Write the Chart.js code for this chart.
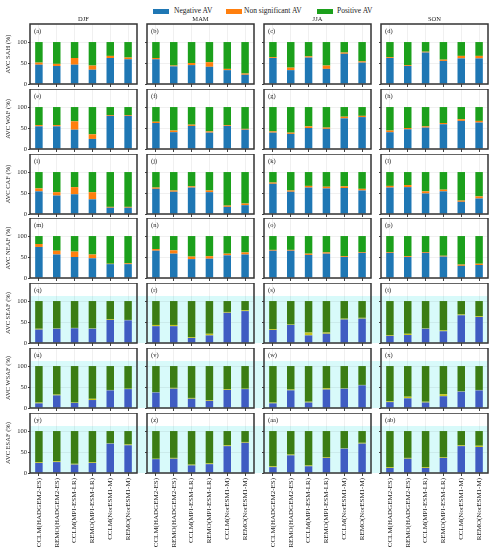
<!DOCTYPE html>
<html>
<head>
<meta charset="utf-8">
<script src="https://cdn.jsdelivr.net/npm/chart.js@4.4.0/dist/chart.umd.min.js"></script>
<style>
    body { margin: 0; background: #fff; }
    #fig { position: relative; width: 494px; height: 550px; overflow: hidden; font-family: "Liberation Serif", serif; color: #222; }
    #fig canvas { position: absolute; }
    .lg-box { position: absolute; top: 9px; width: 16px; height: 5px; }
    .lg-txt { position: absolute; top: 6px; font-size: 7.5px; line-height: 10px; white-space: nowrap; }
</style>
</head>
<body>
<div id="fig"></div>
<script>
// --- data ---
const models = ['CCLM(HADGEM2-ES)', 'REMO(HADGEM2-ES)', 'CCLM(MPI-ESM-LR)', 'REMO(MPI-ESM-LR)', 'CCLM(NorESM1-M)', 'REMO(NorESM1-M)'];
const seasons = ['DJF', 'MAM', 'JJA', 'SON'];
const regions = ['SAH', 'WAF', 'CAF', 'NEAF', 'SEAF', 'WSAF', 'ESAF'];
const letters = ['a','b','c','d','e','f','g','h','i','j','k','l','m','n','o','p','q','r','s','t','u','v','w','x','y','z','aa','ab'];
const seriesNames = ['Negative AV', 'Non significant AV', 'Positive AV'];
const yTicks = [0, 50, 100];

// each region: one row per season (DJF, MAM, JJA, SON), one value per model
const negSAH = [[46,43,46,34,62,59],[59,42,45,41,33,22],[62,33,63,36,72,51],[62,43,75,55,61,61]];
const nsSAH  = [[5,5,16,10,5,4],[3,2,5,11,3,3],[2,6,3,8,3,3],[2,2,2,3,6,6]];
const posSAH = [[49,52,38,56,33,37],[38,56,50,48,64,75],[36,61,34,56,25,46],[36,55,23,42,33,33]];

const negWAF = [[54,54,46,24,79,79],[62,40,55,39,55,46],[39,36,50,48,73,76],[40,47,51,59,67,63]];
const nsWAF  = [[3,3,20,11,2,2],[3,4,3,3,2,2],[3,3,4,3,4,3],[4,3,3,3,4,4]];
const posWAF = [[43,43,34,65,19,19],[35,56,42,58,43,52],[58,61,46,49,23,21],[56,50,46,38,29,33]];

const negCAF = [[54,44,47,35,15,15],[60,53,63,52,17,21],[72,53,63,61,62,56],[63,64,49,54,29,37]];
const nsCAF  = [[7,8,17,17,2,2],[3,3,3,4,3,4],[3,3,4,4,4,4],[4,5,5,4,3,5]];
const posCAF = [[39,48,36,48,83,83],[37,44,34,44,80,75],[25,44,33,35,34,40],[33,31,46,42,68,58]];

const negNEAF = [[74,56,50,47,33,33],[65,58,45,46,54,56],[65,65,55,58,50,60],[60,50,60,51,29,31]];
const nsNEAF  = [[7,9,13,9,1,2],[4,8,6,6,4,5],[2,2,3,3,2,2],[2,2,2,2,3,3]];
const posNEAF = [[19,35,37,44,66,65],[31,34,49,48,42,39],[33,33,42,39,48,38],[38,48,38,47,68,66]];

const negSEAF = [[32,34,35,34,55,54],[40,40,12,18,72,76],[31,43,18,22,56,58],[17,19,34,28,66,62]];
const nsSEAF  = [[2,1,1,1,2,1],[3,3,2,4,2,2],[2,1,7,3,2,2],[2,3,1,2,2,2]];
const posSEAF = [[66,65,64,65,43,45],[57,57,86,78,26,22],[67,56,75,75,42,40],[81,78,65,70,32,36]];

const negWSAF = [[11,30,12,19,42,45],[37,46,22,17,43,45],[11,42,13,44,46,54],[14,23,13,28,39,42]];
const nsWSAF  = [[2,2,1,3,1,1],[1,2,2,2,2,1],[2,2,2,3,1,1],[2,4,2,5,1,1]];
const posWSAF = [[87,68,87,78,57,54],[62,52,76,81,55,54],[87,56,85,53,53,45],[84,73,85,67,60,57]];

const negESAF = [[24,26,20,24,70,66],[33,34,18,21,64,72],[14,42,16,36,58,70],[12,34,12,36,64,62]];
const nsESAF  = [[2,2,2,2,1,2],[1,2,2,2,2,2],[2,2,2,2,1,2],[2,2,2,2,2,3]];
const posESAF = [[74,72,78,74,29,32],[66,64,80,77,34,26],[84,56,82,62,41,28],[86,64,86,62,34,35]];

const negAll = [negSAH, negWAF, negCAF, negNEAF, negSEAF, negWSAF, negESAF];
const nsAll  = [nsSAH, nsWAF, nsCAF, nsNEAF, nsSEAF, nsWSAF, nsESAF];
const posAll = [posSAH, posWAF, posCAF, posNEAF, posSEAF, posWSAF, posESAF];

// --- styling ---
const colors = ['#1f77b4', '#ff7f0e', '#1ca01c'];
const shadedColors = ['#3f5cc2', '#c6c41e', '#3b7d14'];
const shadedRows = [4, 5, 6];
const shadeFrom = 112;
const yMax = 143;
const serif = '"Liberation Serif", "Times New Roman", serif';

const panelLeft = [30, 147, 264, 381];
const panelTop = [24, 89, 154, 218, 283, 348, 413];
const panelW = 107;
const panelH = 60;

const fig = document.getElementById('fig');

// legend
const lgBoxX = [153, 226, 317];
const lgTxtX = [174, 244, 337];
seriesNames.forEach((name, i) => {
    const b = document.createElement('div');
    b.className = 'lg-box';
    b.style.left = lgBoxX[i] + 'px';
    b.style.background = colors[i];
    fig.appendChild(b);
    const t = document.createElement('div');
    t.className = 'lg-txt';
    t.style.left = lgTxtX[i] + 'px';
    t.textContent = name;
    fig.appendChild(t);
});

// frame, panel letter, season title, cyan shading
const panelDecor = {
    id: 'panelDecor',
    beforeDraw(chart, args, opts) {
        if (!opts.shade) return;
        const { ctx, chartArea: a } = chart;
        const top = chart.scales.y.getPixelForValue(shadeFrom);
        const right = opts.toEdge ? chart.width : a.right;
        ctx.save();
        ctx.fillStyle = '#d8fafa';
        ctx.fillRect(a.left, top, right - a.left, a.bottom - top);
        ctx.restore();
    },
    afterDraw(chart, args, opts) {
        const { ctx, chartArea: a } = chart;
        ctx.save();
        ctx.strokeStyle = '#333';
        ctx.lineWidth = 1.5;
        ctx.strokeRect(a.left, a.top, a.right - a.left, a.bottom - a.top);
        ctx.fillStyle = '#222';
        ctx.font = '6.5px ' + serif;
        ctx.textBaseline = 'top';
        ctx.textAlign = 'left';
        ctx.fillText('(' + opts.letter + ')', a.left + 4, a.top + 4);
        if (opts.season) {
            ctx.textAlign = 'center';
            ctx.textBaseline = 'bottom';
            ctx.fillText(opts.season, (a.left + a.right) / 2, a.top - 1);
        }
        ctx.restore();
    }
};

// keep every panel's plot box the same size, whatever its labels need
const noPad = s => { s.paddingTop = 0; s.paddingBottom = 0; s.paddingLeft = 0; s.paddingRight = 0; };

regions.forEach((region, r) => {
    seasons.forEach((season, c) => {
        const isBottom = r === regions.length - 1;
        const shaded = shadedRows.includes(r);
        const pal = shaded ? shadedColors : colors;
        const yW = c === 0 ? 30 : 6;
        const padTop = r === 0 ? 12 : 0;
        const padRight = c < 3 ? 10 : 6;
        const xH = isBottom ? 77 : 4;

        const cv = document.createElement('canvas');
        const left = panelLeft[c] - yW;
        const top = panelTop[r] - padTop;
        const w = yW + panelW + padRight;
        const h = padTop + panelH + xH;
        cv.width = w; cv.height = h;
        cv.style.left = left + 'px';
        cv.style.top = top + 'px';
        cv.style.width = w + 'px';
        cv.style.height = h + 'px';
        fig.appendChild(cv);

        const sets = [negAll[r][c], nsAll[r][c], posAll[r][c]];

        new Chart(cv, {
            type: 'bar',
            data: {
                labels: models,
                datasets: sets.map((d, k) => ({
                    label: seriesNames[k],
                    data: d,
                    backgroundColor: pal[k],
                    borderWidth: 0,
                    categoryPercentage: 1,
                    barPercentage: 0.42
                }))
            },
            options: {
                responsive: false,
                animation: false,
                events: [],
                layout: { padding: { top: padTop, right: padRight, left: 0, bottom: 0 } },
                plugins: {
                    legend: { display: false },
                    tooltip: { enabled: false },
                    panelDecor: {
                        letter: letters[r * 4 + c],
                        season: r === 0 ? season : null,
                        shade: shaded,
                        toEdge: c < 3
                    }
                },
                scales: {
                    x: {
                        stacked: true,
                        offset: true,
                        border: { display: false },
                        grid: { offset: false, color: 'rgba(0,0,0,0.06)', tickColor: '#444', tickLength: 3 },
                        ticks: {
                            display: isBottom,
                            autoSkip: false,
                            minRotation: 90,
                            maxRotation: 90,
                            padding: 2,
                            color: '#222',
                            font: { family: serif, size: 7 }
                        },
                        afterFit: s => { s.height = xH; noPad(s); }
                    },
                    y: {
                        stacked: true,
                        min: 0,
                        max: yMax,
                        afterBuildTicks: s => { s.ticks = yTicks.map(v => ({ value: v })); },
                        border: { display: false },
                        grid: { color: 'rgba(0,0,0,0.06)', tickColor: '#444', tickLength: 2 },
                        ticks: {
                            display: c === 0,
                            padding: 1,
                            color: '#222',
                            font: { family: serif, size: 6.5 }
                        },
                        title: {
                            display: c === 0,
                            text: 'AVC ' + region + ' (%)',
                            color: '#222',
                            padding: { top: 4, bottom: 0 },
                            font: { family: serif, size: 6.5 }
                        },
                        afterFit: s => { s.width = yW; noPad(s); }
                    }
                }
            },
            plugins: [panelDecor]
        });
    });
});
</script>
</body>
</html>
